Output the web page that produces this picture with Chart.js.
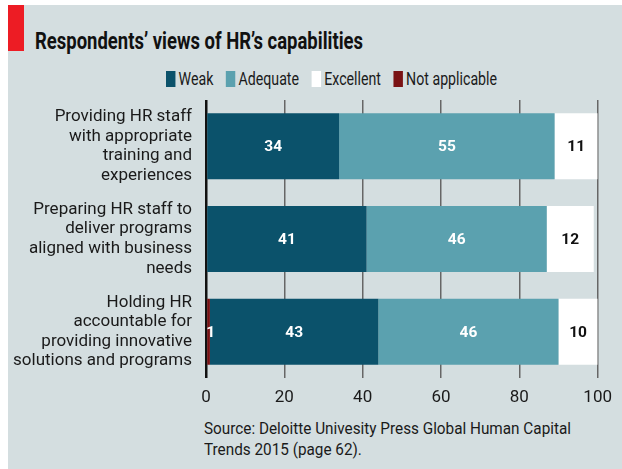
<!DOCTYPE html>
<html><head><meta charset="utf-8">
<script src="https://cdn.jsdelivr.net/npm/chart.js@4.4.0/dist/chart.umd.min.js"></script>
<style>
html,body{margin:0;padding:0;background:#fff;}
#wrap{position:relative;width:622px;height:469px;overflow:hidden;font-family:Roboto,sans-serif;color:#1a1a1a;}
#bg{position:absolute;left:8px;top:5px;right:0;bottom:0;background:#d4dee0;}
#red{position:absolute;left:8px;top:5px;width:16px;height:46px;background:#ed1c24;}
#title{position:absolute;left:35px;top:30px;font-weight:bold;font-size:23px;line-height:24px;color:#111;white-space:nowrap;transform-origin:left top;}
#legend{position:absolute;left:166px;top:69px;display:flex;align-items:center;white-space:nowrap;transform-origin:left top;font-size:18px;line-height:20px;}
.item{display:flex;align-items:center;margin-right:16px;}
.item:last-child{margin-right:0}
.box{width:12px;height:16px;margin-right:4px;}
#source{position:absolute;left:204px;top:418px;font-size:16px;line-height:21px;white-space:nowrap;transform-origin:left top;}
canvas{position:absolute;left:0;top:0;}
</style></head>
<body>
<div id="wrap">
  <div id="bg"></div>
  <div id="red"></div>
  <div id="title">Respondents’ views of HR’s capabilities</div>
  <div id="legend"></div>
  <div id="source"><span id="src1">Source: Deloitte Univesity Press Global Human Capital</span><br>Trends 2015 (page 62).</div>
  <canvas id="c" width="622" height="469"></canvas>
</div>
<script>
const categories = [
  ["Providing HR staff","with appropriate","training and","experiences"],
  ["Preparing HR staff to","deliver programs","aligned with business","needs"],
  ["Holding HR","accountable for","providing innovative","solutions and programs"]
];
const seriesNames = ["Not applicable","Weak","Adequate","Excellent"];
const notApplicable = [0,0,1];
const weak = [34,41,43];
const adequate = [55,46,46];
const excellent = [11,12,10];
const xTicks = [0,20,40,60,80,100];

const colors = {"Not applicable":"#7a1214","Weak":"#0b526b","Adequate":"#5ba1af","Excellent":"#ffffff"};
const labelColors = {"Not applicable":"#ffffff","Weak":"#ffffff","Adequate":"#ffffff","Excellent":"#111111"};
const legendOrder = ["Weak","Adequate","Excellent","Not applicable"];
const seriesData = [notApplicable, weak, adequate, excellent];

const lg = document.getElementById('legend');
legendOrder.forEach(n=>{
  const it=document.createElement('div');it.className='item';
  const b=document.createElement('div');b.className='box';b.style.background=colors[n];
  const t=document.createElement('span');t.textContent=n;
  it.appendChild(b);it.appendChild(t);lg.appendChild(it);
});
function fitW(el, target){const w=el.getBoundingClientRect().width; if(w>0) el.style.transform='scaleX('+(target/w)+')';}
fitW(document.getElementById('title'), 328);
fitW(lg, 331);
(function(){const s=document.getElementById('src1').getBoundingClientRect().width; document.getElementById('source').style.transform='scaleX('+(367/s)+')';})();

const valueLabels = {
  id:'valueLabels',
  afterDatasetsDraw(chart){
    const ctx=chart.ctx;
    ctx.save();
    ctx.font='bold 15.5px Roboto';
    ctx.textAlign='center';ctx.textBaseline='middle';
    chart.data.datasets.forEach((ds,i)=>{
      const meta=chart.getDatasetMeta(i);
      meta.data.forEach((el,j)=>{
        const v=ds.data[j];
        if(!v) return;
        ctx.fillStyle=labelColors[ds.label];
        let x=(el.x+el.base)/2;
        if(v<3) x+=2;
        ctx.fillText(String(v), x, el.y+1);
      });
    });
    ctx.restore();
  }
};

new Chart(document.getElementById('c'),{
  type:'bar',
  data:{
    labels:categories,
    datasets:seriesNames.map((n,i)=>({label:n,data:seriesData[i],backgroundColor:colors[n],borderWidth:0,barPercentage:0.712,categoryPercentage:1}))
  },
  options:{
    indexAxis:'y',
    responsive:false,
    animation:false,
    devicePixelRatio:1,
    layout:{padding:{top:100,left:0,right:23,bottom:51}},
    plugins:{legend:{display:false},tooltip:{enabled:false}},
    scales:{
      x:{
        stacked:true,min:0,max:100,
        afterBuildTicks(s){s.ticks=xTicks.map(v=>({value:v}));},
        afterFit(s){s.height=40;},
        grid:{drawTicks:false,color:c=>c.tick&&c.tick.value===0?'#111':'#666',lineWidth:c=>c.tick&&c.tick.value===0?2.5:1.5},
        border:{display:false},
        ticks:{padding:10,color:'#1a1a1a',font:{family:'Roboto',size:17}}
      },
      y:{
        stacked:true,
        afterFit(s){s.width=206;},
        grid:{display:false,drawTicks:false},
        border:{display:false},
        ticks:{padding:14,color:'#1a1a1a',font:{family:'Roboto',size:17,lineHeight:1.15}}
      }
    }
  },
  plugins:[valueLabels]
});
</script>
</body></html>
